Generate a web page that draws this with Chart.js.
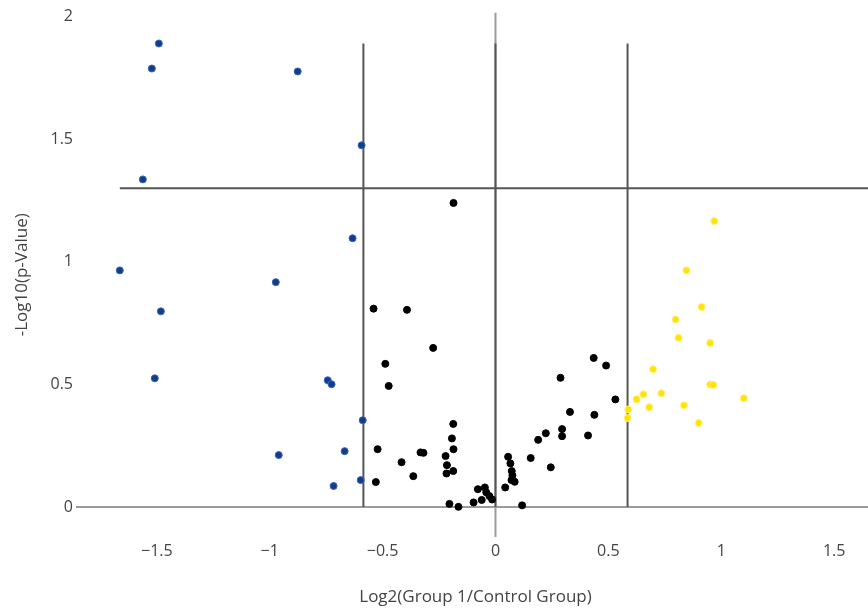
<!DOCTYPE html>
<html>
<head>
<meta charset="utf-8">
<script src="https://cdn.jsdelivr.net/npm/chart.js@4/dist/chart.umd.min.js"></script>
<style>
  html, body { margin: 0; padding: 0; background: #fff; overflow: hidden; }
  #wrap { width: 880px; height: 610px; }
</style>
</head>
<body>
<div id="wrap"><canvas id="volcano" width="880" height="610"></canvas></div>
<script>
// down-regulated (blue) points: [log2 fold change, -log10 p]
const downX = [-1.491, -1.522, -0.876, -0.593, -1.562, -0.633, -1.664, -0.973, -1.482, -1.509, -0.743, -0.726, -0.588, -0.960, -0.668, -0.597, -0.717];
const downY = [1.890, 1.788, 1.776, 1.475, 1.336, 1.096, 0.965, 0.917, 0.798, 0.525, 0.517, 0.501, 0.354, 0.212, 0.228, 0.110, 0.086];

// not significant (black) points
const nsX = [-0.186, -0.540, -0.392, -0.276, -0.488, -0.473, 0.435, 0.288, 0.490, 0.531,
  -0.187, -0.193, -0.186, -0.221, -0.215, -0.217, -0.187, -0.522, -0.416, -0.332,
  -0.319, -0.364, -0.530, -0.204, -0.164, -0.097, -0.061, -0.078, -0.047, -0.041,
  -0.027, -0.015, 0.043, 0.056, 0.066, 0.072, 0.075, 0.071, 0.085, 0.118,
  0.156, 0.189, 0.223, 0.245, 0.295, 0.295, 0.330, 0.410, 0.438];
const nsY = [1.240, 0.809, 0.804, 0.649, 0.584, 0.494, 0.608, 0.527, 0.577, 0.439,
  0.339, 0.280, 0.236, 0.208, 0.171, 0.137, 0.147, 0.236, 0.183, 0.223,
  0.221, 0.126, 0.102, 0.013, 0.001, 0.019, 0.029, 0.073, 0.080, 0.060,
  0.045, 0.031, 0.080, 0.205, 0.178, 0.147, 0.129, 0.110, 0.103, 0.007,
  0.200, 0.274, 0.301, 0.162, 0.318, 0.289, 0.388, 0.292, 0.376];

// up-regulated (yellow) points
const upX = [0.969, 0.846, 0.913, 0.798, 0.811, 0.951, 0.698, 0.951, 0.965, 0.735, 0.655, 0.625, 1.100, 0.588, 0.585, 0.681, 0.835, 0.900];
const upY = [1.166, 0.965, 0.816, 0.765, 0.690, 0.669, 0.562, 0.500, 0.498, 0.464, 0.460, 0.440, 0.444, 0.398, 0.363, 0.407, 0.415, 0.343];

// thresholds
const fcCut = 0.585;
const pCut = 1.3;
const cutTop = 1.89;
const pLineStart = -1.664;

const xTicks = [-1.5, -1, -0.5, 0, 0.5, 1, 1.5];
const yTicks = [0, 0.5, 1, 1.5, 2];
const xRange = [-1.858, 1.681];
const yRange = [-0.122, 2.016];

const toPts = (xs, ys) => xs.map((x, i) => ({ x: x, y: ys[i] }));
const fmt = (v) => (v < 0 ? '\u2212' + Math.abs(v) : String(v));

const zeroColor = '#9a9a9a';
const cutColor = '#555555';

const lineSet = (pts, color, order) => ({
  type: 'line',
  data: pts,
  borderColor: color,
  borderWidth: 2,
  pointRadius: 0,
  fill: false,
  order: order
});

const scatterSet = (pts, fill, border) => ({
  type: 'scatter',
  data: pts,
  backgroundColor: fill,
  borderColor: border,
  borderWidth: 1,
  pointRadius: 3.5,
  order: 1
});

const ctx = document.querySelector('#volcano').getContext('2d');
new Chart(ctx, {
  data: {
    datasets: [
      // zero lines
      lineSet([{ x: xRange[0], y: 0 }, { x: xRange[1], y: 0 }], zeroColor, 3),
      lineSet([{ x: 0, y: yRange[0] }, { x: 0, y: yRange[1] }], zeroColor, 3),
      // cut-off lines
      lineSet([{ x: 0, y: 0 }, { x: 0, y: cutTop }], cutColor, 2),
      lineSet([{ x: -fcCut, y: 0 }, { x: -fcCut, y: cutTop }], cutColor, 2),
      lineSet([{ x: fcCut, y: 0 }, { x: fcCut, y: cutTop }], cutColor, 2),
      lineSet([{ x: pLineStart, y: pCut }, { x: xRange[1], y: pCut }], cutColor, 2),
      scatterSet(toPts(downX, downY), '#123c8c', '#3a64b4'),
      scatterSet(toPts(nsX, nsY), '#000000', '#000000'),
      scatterSet(toPts(upX, upY), '#ffe400', '#fff07a')
    ]
  },
  options: {
    responsive: false,
    animation: false,
    maintainAspectRatio: false,
    layout: { padding: { top: 12, right: 4, left: 0, bottom: 0 } },
    plugins: { legend: { display: false }, tooltip: { enabled: false } },
    scales: {
      x: {
        type: 'linear',
        min: xRange[0],
        max: xRange[1],
        afterBuildTicks: (scale) => { scale.ticks = xTicks.map(v => ({ value: v })); },
        afterFit: (scale) => { scale.height = 73; },
        grid: { display: false, drawTicks: false },
        border: { display: false },
        ticks: {
          padding: 5,
          color: '#444',
          font: { family: 'Open Sans', size: 16 },
          callback: (v) => fmt(v),
          maxRotation: 0
        },
        title: {
          display: true,
          text: 'Log2(Group 1/Control Group)',
          color: '#444',
          font: { family: 'Open Sans', size: 17 },
          padding: { top: 0, bottom: 3 }
        }
      },
      y: {
        type: 'linear',
        min: yRange[0],
        max: yRange[1],
        afterBuildTicks: (scale) => { scale.ticks = yTicks.map(v => ({ value: v })); },
        afterFit: (scale) => { scale.width = 76; },
        grid: { display: false, drawTicks: false },
        border: { display: false },
        ticks: {
          padding: 3,
          color: '#444',
          font: { family: 'Open Sans', size: 16 },
          callback: (v) => fmt(v)
        },
        title: {
          display: true,
          text: '-Log10(p-Value)',
          color: '#444',
          font: { family: 'Open Sans', size: 17 },
          padding: { top: 12, bottom: 0 }
        }
      }
    }
  }
});
</script>
</body>
</html>
